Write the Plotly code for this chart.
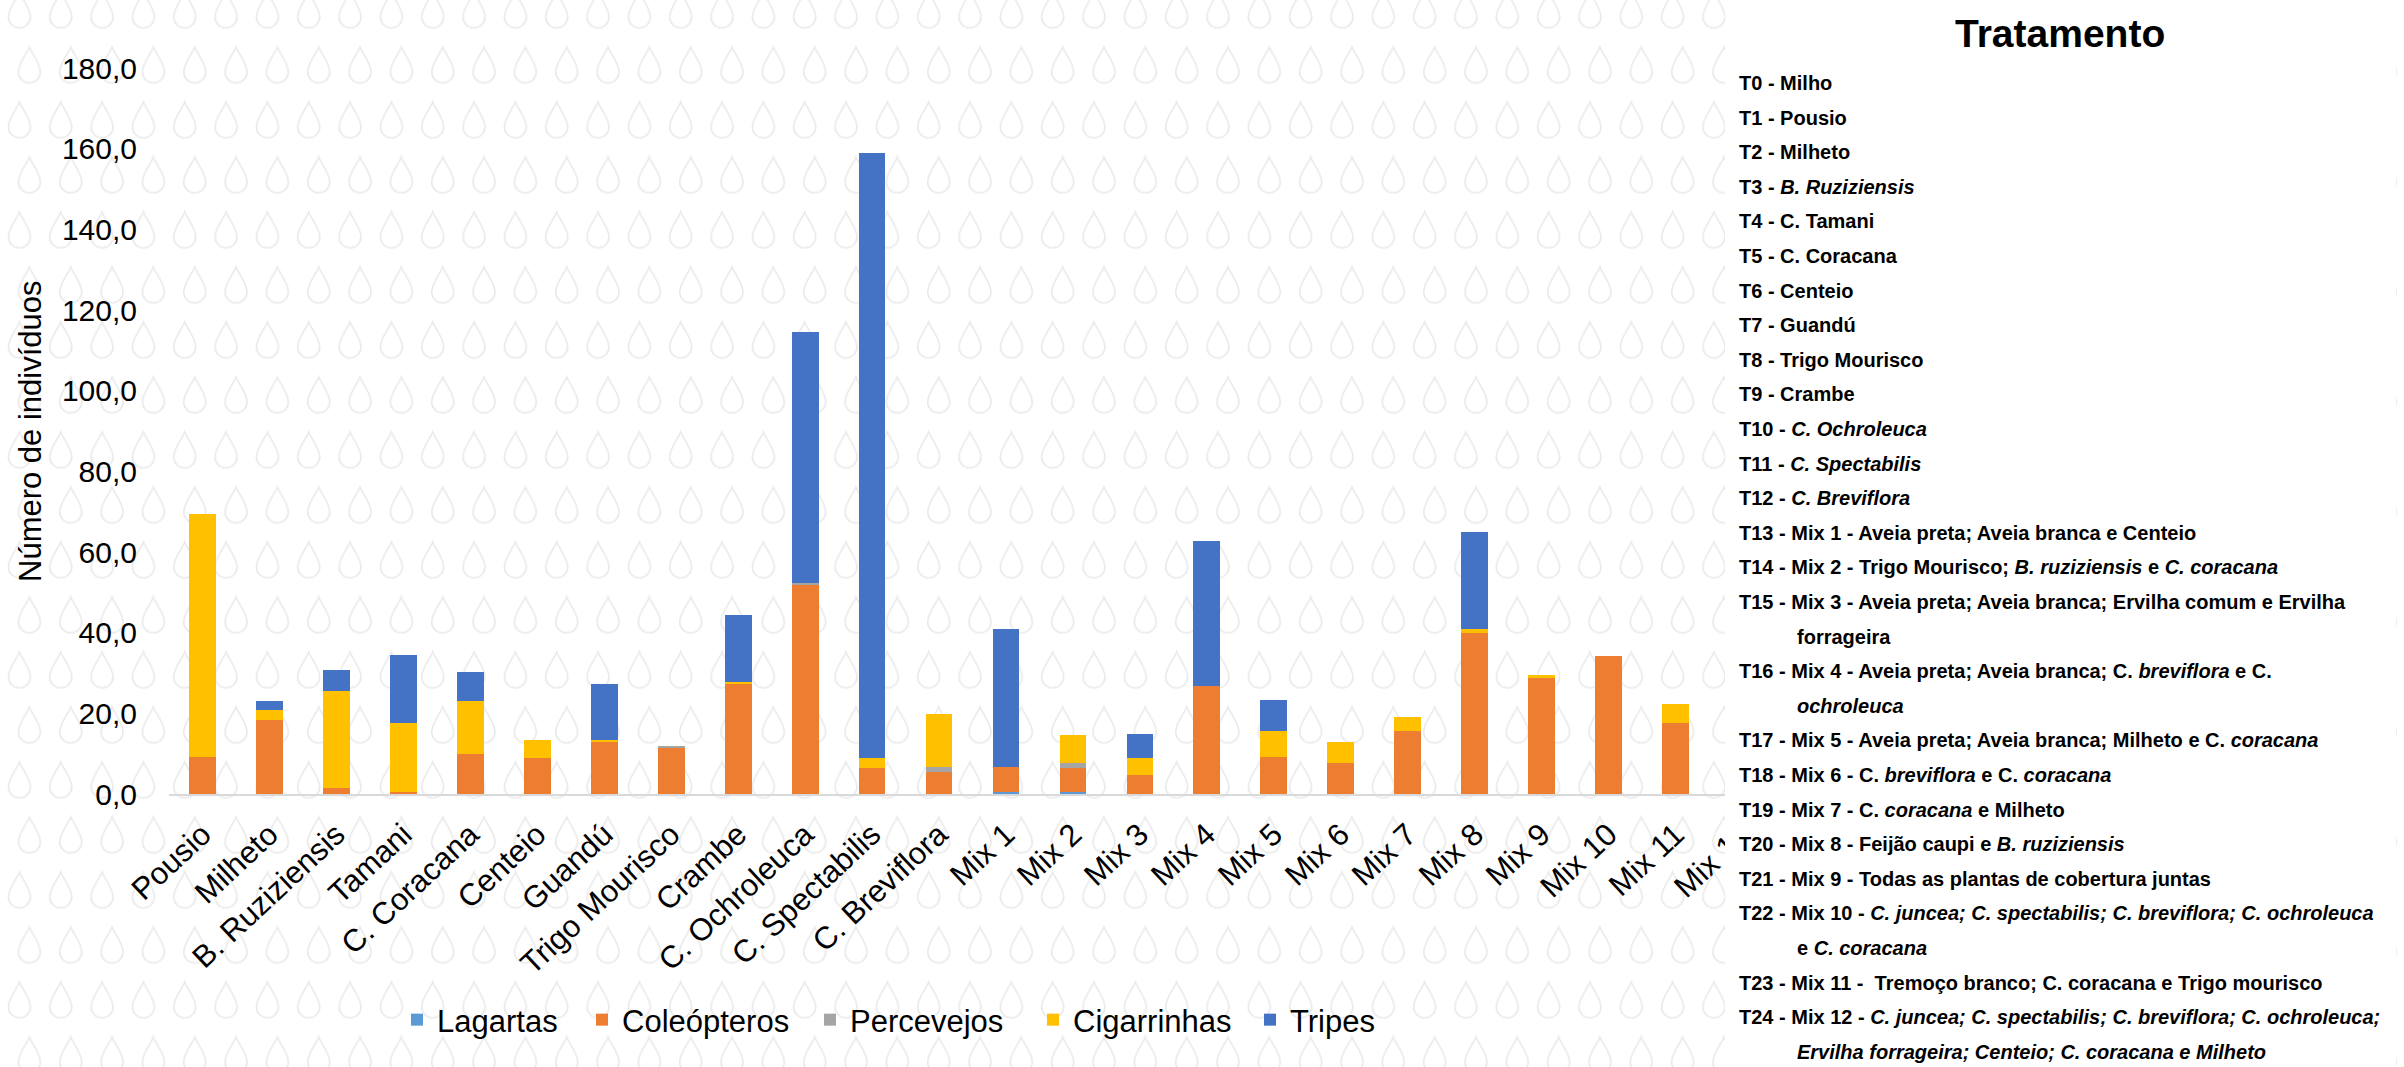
import base64
import plotly.graph_objects as go

# Treatments (x categories)
categorias = [
    "Pousio", "Milheto", "B. Ruziziensis", "Tamani", "C. Coracana", "Centeio",
    "Guandú", "Trigo Mourisco", "Crambe", "C. Ochroleuca", "C. Spectabilis",
    "C. Breviflora", "Mix 1", "Mix 2", "Mix 3", "Mix 4", "Mix 5", "Mix 6",
    "Mix 7", "Mix 8", "Mix 9", "Mix 10", "Mix 11", "Mix 12",
]

# Number of individuals per insect group (stacked)
lagartas = [0, 0, 0, 0, 0, 0, 0, 0, 0, 0, 0, 0,
            0.6, 0.4, 0, 0, 0, 0, 0, 0, 0, 0, 0, None]
coleopteros = [9.2, 18.3, 1.5, 0.6, 9.9, 8.9, 12.9, 11.5, 27.4, 51.8, 6.4, 5.5,
               6.2, 6.0, 4.6, 26.9, 9.1, 7.6, 15.6, 39.9, 28.8, 34.1, 17.6, None]
percevejos = [0, 0, 0, 0, 0, 0, 0, 0.4, 0, 0.6, 0, 1.3,
              0, 1.4, 0, 0, 0, 0, 0, 0, 0, 0, 0, None]
cigarrinhas = [60.1, 2.6, 24.0, 17.0, 13.1, 4.5, 0.4, 0, 0.3, 0, 2.5, 13.1,
               0, 6.8, 4.4, 0, 6.4, 5.4, 3.6, 1.1, 0.8, 0, 4.6, None]
tripes = [0, 2.1, 5.3, 16.9, 7.3, 0, 14.0, 0, 16.7, 62.2, 150.0, 0,
          34.0, 0, 5.8, 35.9, 7.9, 0, 0, 24.0, 0, 0, 0, None]

series = [
    ("Lagartas", lagartas, "#5B9BD5"),
    ("Coleópteros", coleopteros, "#ED7D31"),
    ("Percevejos", percevejos, "#A5A5A5"),
    ("Cigarrinhas", cigarrinhas, "#FFC000"),
    ("Tripes", tripes, "#4472C4"),
]

# Treatment key shown in the side panel: (text, indented continuation line?)
tratamentos = [
    ("T0 - Milho", False),
    ("T1 - Pousio", False),
    ("T2 - Milheto", False),
    ("T3 - <i>B. Ruziziensis</i>", False),
    ("T4 - C. Tamani", False),
    ("T5 - C. Coracana", False),
    ("T6 - Centeio", False),
    ("T7 - Guandú", False),
    ("T8 - Trigo Mourisco", False),
    ("T9 - Crambe", False),
    ("T10 - <i>C. Ochroleuca</i>", False),
    ("T11 - <i>C. Spectabilis</i>", False),
    ("T12 - <i>C. Breviflora</i>", False),
    ("T13 - Mix 1 - Aveia preta; Aveia branca e Centeio", False),
    ("T14 - Mix 2 - Trigo Mourisco; <i>B. ruziziensis</i> e <i>C. coracana</i>", False),
    ("T15 - Mix 3 - Aveia preta; Aveia branca; Ervilha comum e Ervilha", False),
    ("forrageira", True),
    ("T16 - Mix 4 - Aveia preta; Aveia branca; C. <i>breviflora</i> e C.", False),
    ("<i>ochroleuca</i>", True),
    ("T17 - Mix 5 - Aveia preta; Aveia branca; Milheto e C. <i>coracana</i>", False),
    ("T18 - Mix 6 - C. <i>breviflora</i> e C. <i>coracana</i>", False),
    ("T19 - Mix 7 - C. <i>coracana</i> e Milheto", False),
    ("T20 - Mix 8 - Feijão caupi e <i>B. ruziziensis</i>", False),
    ("T21 - Mix 9 - Todas as plantas de cobertura juntas", False),
    ("T22 - Mix 10 - <i>C. juncea; C. spectabilis; C. breviflora; C. ochroleuca</i>", False),
    ("e <i>C. coracana</i>", True),
    ("T23 - Mix 11 -  Tremoço branco; C. coracana e Trigo mourisco", False),
    ("T24 - Mix 12 - <i>C. juncea; C. spectabilis; C. breviflora; C. ochroleuca;</i>", False),
    ("<i>Ervilha forrageira; Centeio; C. coracana e Milheto</i>", True),
]

W, H = 2404, 1067
FONT = "Liberation Sans, Arial, sans-serif"


def px_x(p):
    return p / W


def px_y(p):
    return 1 - p / H


# Faint raindrop wallpaper behind the whole figure
def drop(cx, cy):
    return (f"M{cx},{cy-18} C{cx-2},{cy-12} {cx-11},{cy-2} {cx-11},{cy+7} "
            f"A11,11 0 0 0 {cx+11},{cy+7} C{cx+11},{cy-2} {cx+2},{cy-12} {cx},{cy-18} Z")


svg = (
    f"<svg xmlns='http://www.w3.org/2000/svg' width='{W}' height='{H}' "
    f"viewBox='0 0 {W} {H}' preserveAspectRatio='none'>"
    "<defs><pattern id='d' x='0' y='-17.5' width='41.33' height='110' "
    "patternUnits='userSpaceOnUse'>"
    f"<path d='{drop(19.4, 27.5)}' fill='none' stroke='#E9E9E9' stroke-width='1.6'/>"
    f"<path d='{drop(29.4, 82.5)}' fill='none' stroke='#E9E9E9' stroke-width='1.6'/>"
    "</pattern></defs>"
    f"<rect width='{W}' height='{H}' fill='url(#d)'/></svg>"
)
wallpaper = "data:image/svg+xml;base64," + base64.b64encode(svg.encode()).decode()

# Each legend entry gets its own legend box so the spacing can be set freely
legend_x = [397, 582, 810, 1033, 1250]
legend_ids = ["legend", "legend2", "legend3", "legend4", "legend5"]

fig = go.Figure()
for (nome, valores, cor), lid in zip(series, legend_ids):
    fig.add_trace(go.Bar(
        x=categorias, y=valores, name=nome, legend=lid, showlegend=True,
        marker=dict(color=cor, line=dict(width=0)),
    ))

legend_style = dict(
    orientation="h", xanchor="left", yanchor="middle",
    font=dict(size=31, family=FONT, color="#000000"),
    bgcolor="rgba(0,0,0,0)", borderwidth=0,
)
for lid, lx in zip(legend_ids, legend_x):
    fig.update_layout({lid: dict(legend_style, x=px_x(lx), y=px_y(1020))})

fig.update_layout(
    width=W, height=H,
    margin=dict(l=0, r=0, t=0, b=0),
    showlegend=True,
    barmode="stack", bargap=0.6,
    separators=",.",
    paper_bgcolor="white", plot_bgcolor="rgba(0,0,0,0)",
    font=dict(family=FONT, color="#000000", size=30),
    xaxis=dict(
        domain=[px_x(169), px_x(1776)], automargin=False,
        showline=True, linecolor="#D9D9D9", linewidth=2,
        showgrid=False, ticks="", tickangle=-43,
        tickfont=dict(size=31, family=FONT, color="#000000"),
        ticklabelstandoff=8,
    ),
    yaxis=dict(
        domain=[px_y(794), px_y(68)], automargin=False,
        range=[0, 180], dtick=20, tickformat=".1f",
        showgrid=False, zeroline=False, showline=False, ticks="",
        tickfont=dict(size=30, family=FONT, color="#000000"),
        ticklabelstandoff=31,
    ),
    images=[dict(
        source=wallpaper, xref="paper", yref="paper", x=0, y=1,
        sizex=1, sizey=1, xanchor="left", yanchor="top",
        sizing="stretch", layer="below",
    )],
    shapes=[dict(
        type="rect", xref="paper", yref="paper",
        x0=px_x(1725), x1=px_x(2396), y0=0, y1=1,
        fillcolor="white", line=dict(width=0), layer="above",
    )],
)

annotations = [
    dict(text="Número de indivíduos", xref="paper", yref="paper",
         x=px_x(30), y=px_y(431), textangle=-90, showarrow=False,
         xanchor="center", yanchor="middle",
         font=dict(size=31, family=FONT, color="#000000")),
    dict(text="<b>Tratamento</b>", xref="paper", yref="paper",
         x=px_x(2060), y=px_y(33), showarrow=False,
         xanchor="center", yanchor="middle",
         font=dict(size=39, family=FONT, color="#000000")),
]
for i, (linha, recuo) in enumerate(tratamentos):
    annotations.append(dict(
        text=f"<b>{linha}</b>", xref="paper", yref="paper",
        x=px_x(1795 if recuo else 1737), y=px_y(83 + i * 34.6),
        showarrow=False, xanchor="left", yanchor="middle",
        font=dict(size=20, family=FONT, color="#000000"),
    ))
fig.update_layout(annotations=annotations)

fig.write_html("out.html")
